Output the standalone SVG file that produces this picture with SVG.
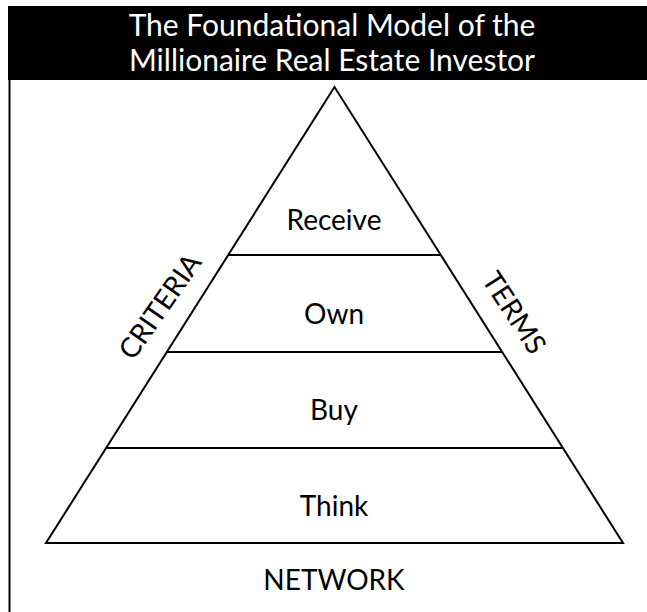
<svg xmlns="http://www.w3.org/2000/svg" width="647" height="612" viewBox="0 0 647 612">
<style>
.t{font-family:"Lato","Open Sans",sans-serif;fill:#000;text-anchor:middle;font-size:28px}
.h{font-family:"Lato","Open Sans",sans-serif;fill:#fff;text-anchor:middle;font-size:30px}
.l{stroke:#000;stroke-width:2;fill:none}
</style>
<rect width="647" height="612" fill="#fff"/>
<g id="header">
<rect x="8" y="6" width="639" height="74" fill="#000"/>
<text class="h" x="332" y="36">The Foundational Model of the</text>
<text class="h" x="332" y="71">Millionaire Real Estate Investor</text>
</g>
<line class="l" x1="9.5" y1="80" x2="9.5" y2="612"/>
<g id="pyramid">
<polygon class="l" points="334.5,87 46,543 623,543"/>
</g>
<g id="connectors">
<line class="l" x1="228.5" y1="255" x2="440.5" y2="255"/>
<line class="l" x1="167" y1="352" x2="502" y2="352"/>
<line class="l" x1="106" y1="448" x2="563" y2="448"/>
</g>
<g id="receive"><text class="t" x="334" y="230">Receive</text></g>
<g id="own"><text class="t" x="334" y="324">Own</text></g>
<g id="buy"><text class="t" x="334" y="420">Buy</text></g>
<g id="think"><text class="t" x="334" y="516">Think</text></g>
<g id="network"><text class="t" x="334" y="590" font-size="32">NETWORK</text></g>
<g id="criteria"><text class="t" transform="translate(168,312) rotate(-55)">CRITERIA</text></g>
<g id="terms"><text class="t" transform="translate(506,318) rotate(57)">TERMS</text></g>
</svg>
